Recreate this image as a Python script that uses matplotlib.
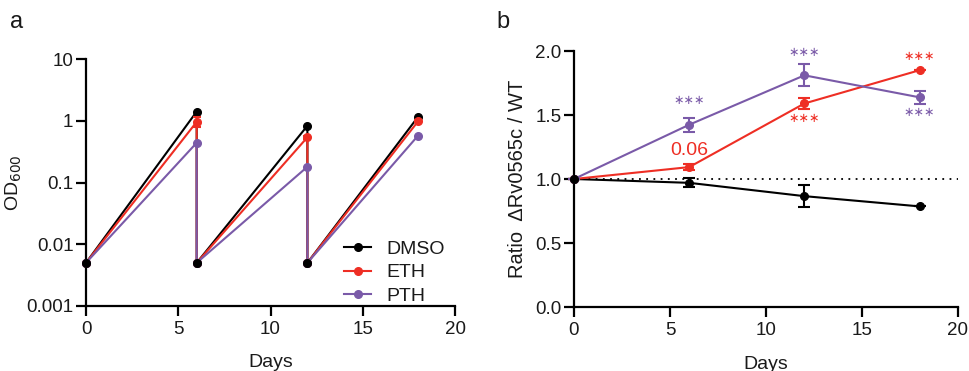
import matplotlib
matplotlib.use("Agg")
import matplotlib.pyplot as plt
from matplotlib.lines import Line2D

plt.rcParams['font.family'] = ['Liberation Sans', 'DejaVu Sans']

# Panel a data
days_a = [0, 6, 6, 12, 12, 18]
dmso_a = [0.005, 1.41, 0.005, 0.83, 0.005, 1.16]
eth_a = [0.005, 0.96, 0.005, 0.54, 0.005, 0.98]
pth_a = [0.005, 0.44, 0.005, 0.18, 0.005, 0.575]
eth_a_err = [0, 0.17, 0, 0.03, 0, 0.03]

# Panel b data
days_b = [0, 6, 12, 18]
dmso_b = [1.0, 0.97, 0.866, 0.786]
dmso_b_err = [0, 0.035, 0.086, 0.0]
eth_b = [1.0, 1.093, 1.59, 1.85]
eth_b_err = [0, 0.025, 0.045, 0.0]
pth_b = [1.0, 1.424, 1.81, 1.638]
pth_b_err = [0, 0.055, 0.087, 0.05]

ann_text = ['∗∗∗', '∗∗∗', '∗∗∗', '∗∗∗', '∗∗∗', '0.06']
ann_x = [6, 12, 18, 12, 18, 6]
ann_y = [1.61, 1.99, 1.96, 1.47, 1.52, 1.226]
ann_series = ['PTH', 'PTH', 'ETH', 'ETH', 'PTH', 'ETH']

series_names = ['DMSO', 'ETH', 'PTH']

BLACK = '#000000'
RED = '#EE2E24'
PURPLE = '#7A5AA8'
colors = {'DMSO': BLACK, 'ETH': RED, 'PTH': PURPLE}

fig = plt.figure(figsize=(9.7, 3.71), dpi=100)
W, H = 970, 371
ax1 = fig.add_axes([86 / W, 1 - 306 / H, (455 - 86) / W, (306 - 59) / H])
ax2 = fig.add_axes([574 / W, 1 - 307 / H, (958 - 574) / W, (307 - 51) / H])

fs = 13.5
TXT = '#1a1a1a'
for ax in (ax1, ax2):
    for s in ('top', 'right'):
        ax.spines[s].set_visible(False)
    for s in ('left', 'bottom'):
        ax.spines[s].set_linewidth(1.6)
    ax.tick_params(width=1.6, length=7, labelsize=fs, direction='out', pad=2,
                   labelcolor=TXT)
    ax.tick_params(axis='x', pad=4)

ms = 5.5
# Panel a
ax1.set_yscale('log')
ax1.plot(days_a, dmso_a, '-o', color=BLACK, lw=1.5, ms=ms, zorder=3, clip_on=False)
ax1.errorbar(days_a, eth_a, yerr=eth_a_err, fmt='-o', color=RED, lw=1.5, ms=ms,
             capsize=3, elinewidth=1.5, capthick=1.5, zorder=4, clip_on=False)
ax1.plot(days_a, pth_a, '-o', color=PURPLE, lw=1.5, ms=ms, zorder=5, clip_on=False)
low_idx = [i for i in range(len(days_a)) if dmso_a[i] == min(dmso_a)]
ax1.plot([days_a[i] for i in low_idx], [dmso_a[i] for i in low_idx], 'o', color=BLACK, ms=ms,
         zorder=6, clip_on=False)
ax1.set_xlim(0, 20)
ax1.set_ylim(0.001, 10)
ax1.set_xticks([0, 5, 10, 15, 20])
ax1.set_yticks([0.001, 0.01, 0.1, 1, 10])
ax1.set_yticklabels(['0.001', '0.01', '0.1', '1', '10'])
ax1.minorticks_off()
ax1.set_xlabel('Days', fontsize=fs + 0.5, labelpad=11, color=TXT)
ax1.set_ylabel('OD$_{600}$', fontsize=fs + 0.5, labelpad=2, color=TXT)
handles = [Line2D([], [], color=colors[n], marker='o', ms=ms, lw=1.5) for n in series_names]
ax1.legend(handles, series_names, loc='lower right', bbox_to_anchor=(1.0, -0.035), frameon=False,
           fontsize=fs + 0.5, handlelength=1.4, handletextpad=0.8, labelspacing=0.3,
           borderaxespad=0.1, labelcolor=TXT)

# Panel b
ax2.axhline(1.0, color=BLACK, lw=1.3, ls=(0, (1, 3)), zorder=1)
for vals, errs, n, z in [(dmso_b, dmso_b_err, 'DMSO', 3), (eth_b, eth_b_err, 'ETH', 4),
                         (pth_b, pth_b_err, 'PTH', 5)]:
    ax2.errorbar(days_b, vals, yerr=errs, fmt='-o', color=colors[n], lw=1.5, ms=ms,
                 capsize=4, elinewidth=1.5, capthick=1.5, zorder=z, clip_on=False)
ax2.plot([days_b[0]], [dmso_b[0]], 'o', color=BLACK, ms=ms, zorder=6, clip_on=False)
for t, x, y, s in zip(ann_text, ann_x, ann_y, ann_series):
    if t.startswith('∗'):
        ax2.text(x, y, t, color=colors[s], ha='center', va='center', fontsize=9,
                 family='DejaVu Sans')
    else:
        ax2.text(x, y, t, color=colors[s], ha='center', va='center', fontsize=fs + 0.5)
ax2.set_xlim(0, 20)
ax2.set_ylim(0, 2.0)
ax2.set_xticks([0, 5, 10, 15, 20])
ax2.set_yticks([0.0, 0.5, 1.0, 1.5, 2.0])
ax2.set_yticklabels(['0.0', '0.5', '1.0', '1.5', '2.0'])
ax2.set_xlabel('Days', fontsize=fs + 0.5, labelpad=12, color=TXT)
ax2.set_ylabel('Ratio  ΔRv0565c / WT', fontsize=fs + 1, labelpad=6, color=TXT)

fig.text(10 / W, 1 - 22 / H, 'a', fontsize=17, va='center', ha='left', color=TXT)
fig.text(496 / W, 1 - 22 / H, 'b', fontsize=17, va='center', ha='left', color=TXT)

fig.savefig('out.png', dpi=100)
